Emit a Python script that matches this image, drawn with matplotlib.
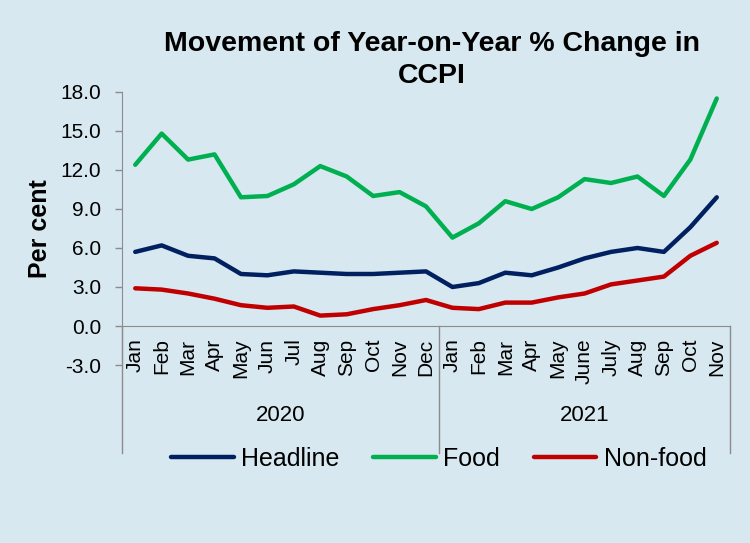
import matplotlib
matplotlib.use("Agg")
import matplotlib.pyplot as plt
import numpy as np

plt.rcParams['font.family'] = ['Liberation Sans', 'DejaVu Sans']

months = ["Jan", "Feb", "Mar", "Apr", "May", "Jun", "Jul", "Aug", "Sep", "Oct", "Nov", "Dec",
          "Jan", "Feb", "Mar", "Apr", "May", "June", "July", "Aug", "Sep", "Oct", "Nov"]
years = ["2020", "2021"]
year_counts = [12, 11]

headline = [5.7, 6.2, 5.4, 5.2, 4.0, 3.9, 4.2, 4.1, 4.0, 4.0, 4.1, 4.2,
            3.0, 3.3, 4.1, 3.9, 4.5, 5.2, 5.7, 6.0, 5.7, 7.6, 9.9]
food = [12.4, 14.8, 12.8, 13.2, 9.9, 10.0, 10.9, 12.3, 11.5, 10.0, 10.3, 9.2,
        6.8, 7.9, 9.6, 9.0, 9.9, 11.3, 11.0, 11.5, 10.0, 12.8, 17.5]
nonfood = [2.9, 2.8, 2.5, 2.1, 1.6, 1.4, 1.5, 0.8, 0.9, 1.3, 1.6, 2.0,
           1.4, 1.3, 1.8, 1.8, 2.2, 2.5, 3.2, 3.5, 3.8, 5.4, 6.4]

bg = "#d7e8f0"
grey = "#8c8c8c"

fig = plt.figure(figsize=(7.5, 5.43), dpi=100, facecolor=bg)
ax = fig.add_axes([0.1627, 0.3278, 0.8106, 0.5028])
ax.set_facecolor(bg)

# spine position first, it resets the ticks
ax.spines['top'].set_visible(False)
ax.spines['right'].set_visible(False)
ax.spines['bottom'].set_position(('data', 0))
ax.spines['bottom'].set_color(grey)
ax.spines['left'].set_color(grey)

x = np.arange(len(months))
ax.plot(x, headline, color="#002060", lw=3.2, label="Headline", solid_capstyle="round")
ax.plot(x, food, color="#00B050", lw=3.2, label="Food", solid_capstyle="round")
ax.plot(x, nonfood, color="#C00000", lw=3.2, label="Non-food", solid_capstyle="round")

ax.set_xlim(-0.5, len(months) - 0.5)
ax.set_ylim(-3, 18)
yt = np.arange(-3, 18.1, 3)
ax.set_yticks(yt)
ax.set_yticklabels(["%.1f" % v for v in yt])
ax.tick_params(axis='y', labelsize=15, length=5, color=grey, width=1, pad=10)

ax.set_xticks(x)
ax.set_xticklabels(months)
ax.tick_params(axis='x', labelsize=15, length=0, pad=9, labelrotation=90)
for lab in ax.get_xticklabels():
    lab.set_verticalalignment('top')

# year group boxes under the month labels
edges = [-0.5]
for c in year_counts:
    edges.append(edges[-1] + c)
for e in edges:
    ax.plot([e, e], [0, -9.8], color=grey, lw=1, clip_on=False)
for i, yr in enumerate(years):
    ax.text((edges[i] + edges[i + 1]) / 2, -6.9, yr, ha='center', va='center',
            fontsize=16, clip_on=False)

ax.set_ylabel("Per cent", fontsize=18, fontweight='bold', labelpad=6)

fig.text(0.576, 0.890, "Movement of Year-on-Year % Change in\nCCPI", ha='center', va='center',
         fontsize=20.5, fontweight='bold', linespacing=1.3)

fig.legend(loc='center', bbox_to_anchor=(0.585, 0.155), ncol=3, frameon=False,
           fontsize=18, handlelength=2.5, handletextpad=0.3, columnspacing=1.35)

fig.savefig("out.png", dpi=100, facecolor=bg)
